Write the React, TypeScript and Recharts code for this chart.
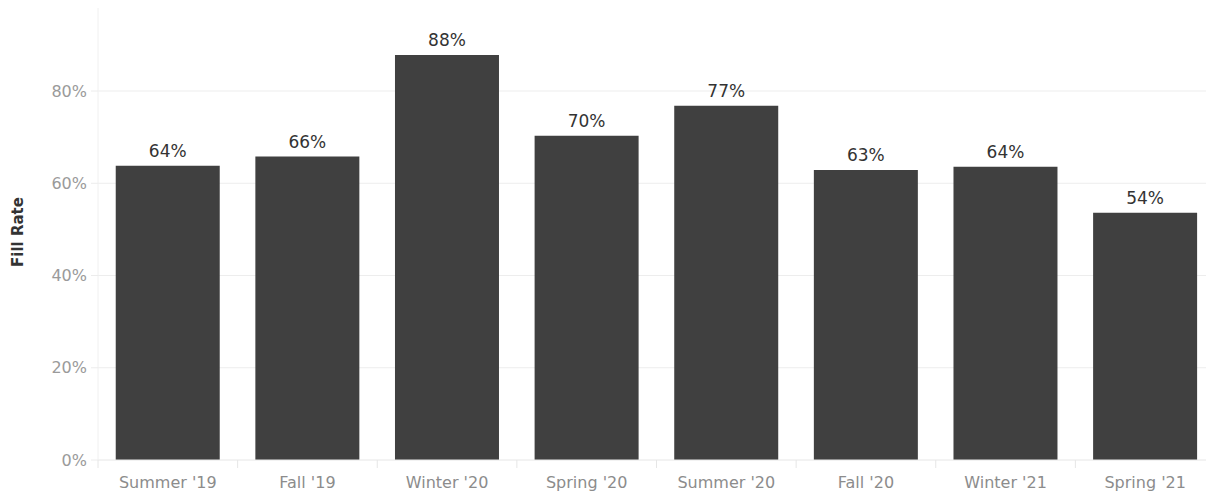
import { Bar, BarChart, CartesianGrid, LabelList, XAxis, YAxis } from "recharts";

const terms = ["Summer '19", "Fall '19", "Winter '20", "Spring '20", "Summer '20", "Fall '20", "Winter '21", "Spring '21"];
const fillRate = [63.8, 65.8, 87.8, 70.3, 76.8, 62.9, 63.6, 53.6];
const yTicks = [0, 20, 40, 60, 80];

const data = terms.map((term, i) => ({ term, fillRate: fillRate[i] }));

const FONT = "'DejaVu Sans', sans-serif";
const W = 1215;
const PLOT_LEFT = 98;
const STEP = (W - PLOT_LEFT) / terms.length;

function TermTick({ x, y, payload }: any) {
  return (
    <g>
      <line x1={x - STEP / 2} x2={x - STEP / 2} y1={y - 8} y2={y} stroke="#e6e6e6" />
      <text x={x} y={y + 20} textAnchor="middle" fill="#8c8c8c" fontSize={16} fontFamily={FONT}>
        {payload.value}
      </text>
    </g>
  );
}

export default function App() {
  return (
    <div style={{ position: "fixed", left: 0, top: 0, width: 1206, height: 494, overflow: "hidden", background: "#fff" }}>
      <BarChart
        width={W}
        height={494}
        data={data}
        margin={{ top: 8, right: 0, left: 0, bottom: 0 }}
        barCategoryGap="12.7%"
      >
        <CartesianGrid stroke="#ededed" vertical={false} horizontalValues={yTicks.slice(1)} />
        <XAxis
          dataKey="term"
          axisLine={{ stroke: "#e6e6e6" }}
          tickLine={false}
          height={34}
          interval={0}
          tick={<TermTick />}
        />
        <YAxis
          width={PLOT_LEFT}
          domain={[0, 98]}
          ticks={yTicks}
          axisLine={{ stroke: "#f0f0f0" }}
          tickLine={{ stroke: "#ececec" }}
          tickSize={7}
          tickMargin={4}
          tickFormatter={(v: number) => `${v}%`}
          tick={{ fill: "#9a9a9a", fontSize: 16, fontFamily: FONT }}
          label={{
            content: ({ viewBox }: any) => {
              const cy = viewBox.y + viewBox.height / 2 - 2;
              return (
                <text
                  x={18}
                  y={cy}
                  transform={`rotate(-90, 18, ${cy})`}
                  textAnchor="middle"
                  dominantBaseline="central"
                  fill="#333333"
                  fontSize={15}
                  fontWeight={600}
                  fontFamily={FONT}
                >
                  Fill Rate
                </text>
              );
            },
          }}
        />
        <Bar dataKey="fillRate" fill="#404040" isAnimationActive={false}>
          <LabelList
            dataKey="fillRate"
            position="top"
            offset={9}
            formatter={(v: any) => `${Math.round(v)}%`}
            style={{ fill: "#333333", fontSize: 17, fontFamily: FONT }}
          />
        </Bar>
      </BarChart>
    </div>
  );
}
